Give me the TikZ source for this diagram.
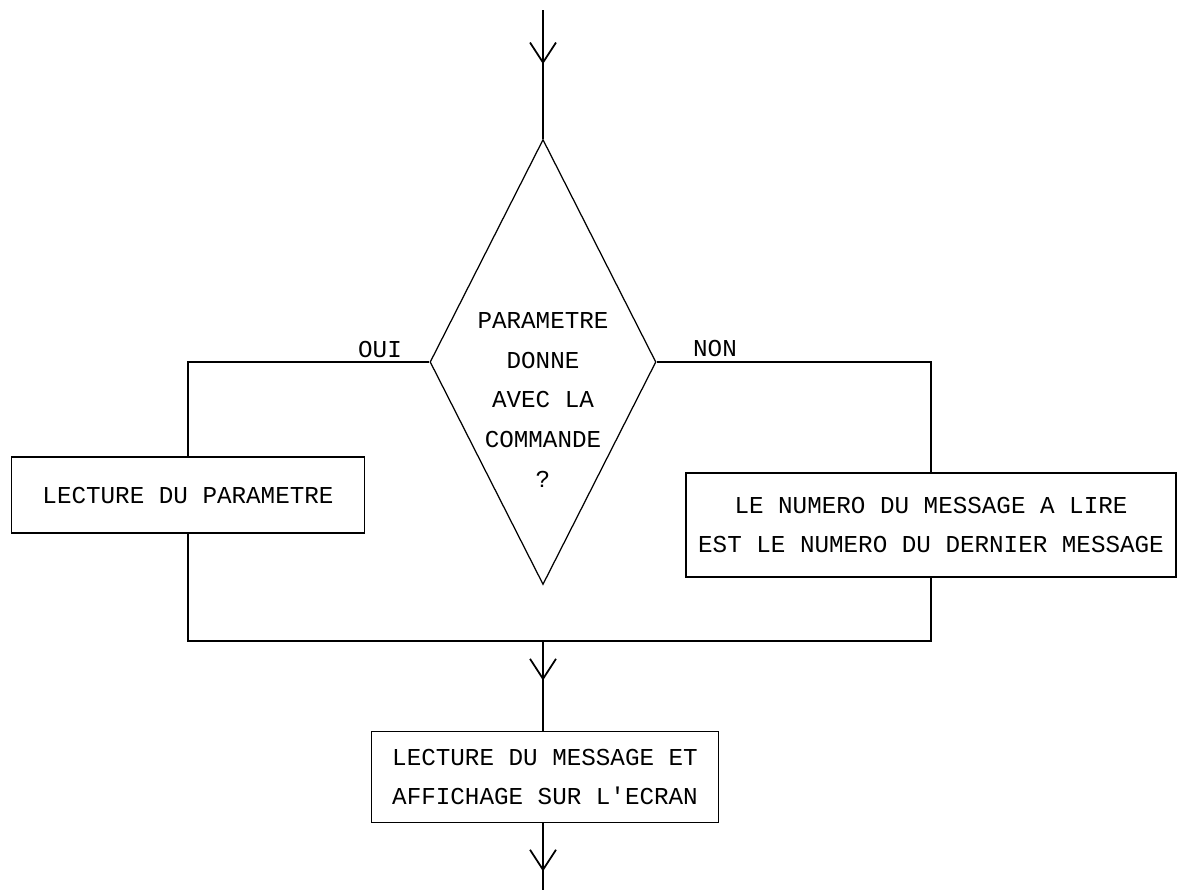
\documentclass[tikz,border=0pt]{standalone}
\usepackage{fontspec}
\setmonofont{Liberation Mono}
\usetikzlibrary{shapes.geometric,arrows.meta,decorations.markings}

\begin{document}
\begin{tikzpicture}[x=0.2mm,y=-0.2mm,line width=1pt,
    every node/.style={font=\ttfamily\fontsize{13.8}{22.7}\selectfont},
    box/.style={draw,rectangle,inner sep=0pt,align=center},
    decision/.style={draw,diamond,minimum width=45.2mm,minimum height=89mm,inner sep=0pt,line width=0.7pt},
    midarrow/.style={postaction={decorate},decoration={markings,
      mark=at position #1 with {\arrow{Straight Barb[length=4mm,width=5.2mm]}}}}]
      \useasboundingbox (0,0) rectangle (1184,890);
      %\draw (0,0) grid[step=100] (1184,890);
      \coordinate (entry) at (543,10);
      \node [decision] (test) at (543,362) {};
      \node [align=center] (question) at (543,400) {PARAMETRE\\DONNE\\AVEC LA\\COMMANDE\\?};
      \node [box,minimum width=70.6mm,minimum height=15.2mm] (param) at (188,495) {LECTURE DU PARAMETRE};
      \node [box,minimum width=98mm,minimum height=20.8mm] (last) at (931,525)
        {LE NUMERO DU MESSAGE A LIRE\\EST LE NUMERO DU DERNIER MESSAGE};
      \coordinate (join) at (543,641);
      \node [box,minimum width=69.4mm,minimum height=18.2mm] (show) at (545,777)
        {LECTURE DU MESSAGE ET\\AFFICHAGE SUR L'ECRAN};
      \coordinate (exit) at (543,890);
      \node (oui) at (380,349) {OUI};
      \node (non) at (715,348) {NON};
      \draw [midarrow=0.42] (entry) -- (test.north);
      \draw (test.west) -| (param.north);
      \draw (test.east) -| (last.north);
      \draw (param.south) |- (join) -| (last.south);
      \draw [midarrow=0.44] (join) -- (join |- show.north);
      \draw [midarrow=0.72] (show.south -| exit) -- (exit);
\end{tikzpicture}
\end{document}
